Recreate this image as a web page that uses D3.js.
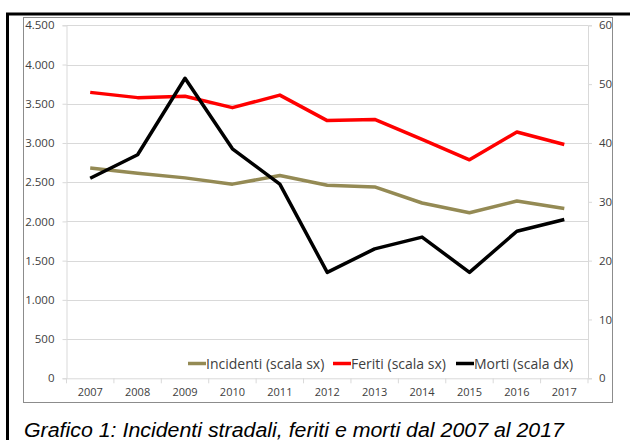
<!DOCTYPE html>
<html>
<head>
<meta charset="utf-8">
<script src="https://cdn.jsdelivr.net/npm/d3@7"></script>
<style>
  body { margin: 0; background: #fff; }
  svg { display: block; }
</style>
</head>
<body>
<svg id="chart" width="630" height="440"></svg>
<script>
// data
var anni = ['2007', '2008', '2009', '2010', '2011', '2012', '2013', '2014', '2015', '2016', '2017'];
var incidenti = [2680, 2615, 2555, 2475, 2585, 2460, 2440, 2235, 2110, 2260, 2165];
var feriti = [3645, 3578, 3595, 3450, 3610, 3285, 3300, 3045, 2785, 3140, 2980];
var morti = [34, 38, 51, 39, 33, 18, 22, 24, 18, 25, 27];
var ticksSx = [0, 500, 1000, 1500, 2000, 2500, 3000, 3500, 4000, 4500];
var ticksDx = [0, 10, 20, 30, 40, 50, 60];

var svg = d3.select('#chart');
var font = '"Open Sans", Lato, sans-serif';

// plot area (window.top is read only, so other names here)
var pL = 66.5, pR = 588, pT = 25.3, pB = 378.3;

var x = d3.scaleBand().domain(anni).range([pL, pR]);
var ySx = d3.scaleLinear().domain([0, 4500]).range([pB, pT]);
var yDx = d3.scaleLinear().domain([0, 60]).range([pB, pT]);

// outer black frame (right and bottom fall outside the picture)
svg.append('rect')
  .attr('x', 7.5).attr('y', 14).attr('width', 640).attr('height', 450)
  .attr('fill', 'none').attr('stroke', '#000').attr('stroke-width', 3);

// chart area box
svg.append('rect')
  .attr('x', 23.5).attr('y', 17.5).attr('width', 589).attr('height', 385)
  .attr('fill', '#fff').attr('stroke', '#8c8c8c').attr('stroke-width', 1);

// gridlines
svg.append('g').selectAll('line').data(ticksSx.slice(1)).enter().append('line')
  .attr('x1', pL).attr('x2', pR)
  .attr('y1', function(d) { return Math.round(ySx(d)) + 0.5; })
  .attr('y2', function(d) { return Math.round(ySx(d)) + 0.5; })
  .attr('stroke', '#d9d9d9').attr('stroke-width', 1);

// left axis
var axSx = d3.axisLeft(ySx).tickValues(ticksSx).tickSize(4).tickPadding(8)
  .tickFormat(function(d) { return d3.format(',')(d).replace(/,/g, '.'); });
var gSx = svg.append('g').attr('transform', 'translate(' + pL + ',0)').call(axSx);

// right axis
var axDx = d3.axisRight(yDx).tickValues(ticksDx).tickSize(4).tickPadding(7);
var gDx = svg.append('g').attr('transform', 'translate(' + pR + ',0)').call(axDx);

// x axis, ticks between categories
var axX = d3.axisBottom(x).tickSize(0).tickPadding(10);
var gX = svg.append('g').attr('transform', 'translate(0,' + pB + ')').call(axX);
gX.selectAll('.tickb').data(anni.concat(['end'])).enter().append('line')
  .attr('class', 'tickb')
  .attr('x1', function(d, i) { return pL + i * x.bandwidth(); })
  .attr('x2', function(d, i) { return pL + i * x.bandwidth(); })
  .attr('y1', 0).attr('y2', 5)
  .attr('stroke', '#d9d9d9');

[gSx, gDx, gX].forEach(function(g) {
  g.selectAll('.domain').attr('stroke', '#d9d9d9');
  g.selectAll('.tick line').attr('stroke', '#d9d9d9');
  g.selectAll('text').attr('fill', '#404040').style('font-family', font).style('font-size', '11.5px');
});
gX.selectAll('text').style('font-size', '11px');

var lineSx = d3.line()
  .x(function(d, i) { return x(anni[i]) + x.bandwidth() / 2; })
  .y(function(d) { return ySx(d); });
var lineDx = d3.line()
  .x(function(d, i) { return x(anni[i]) + x.bandwidth() / 2; })
  .y(function(d) { return yDx(d); });

svg.append('path').attr('d', lineSx(incidenti))
  .attr('fill', 'none').attr('stroke', '#948a54').attr('stroke-width', 3.5).attr('stroke-linejoin', 'round');
svg.append('path').attr('d', lineSx(feriti))
  .attr('fill', 'none').attr('stroke', '#ff0000').attr('stroke-width', 3.5).attr('stroke-linejoin', 'round');
svg.append('path').attr('d', lineDx(morti))
  .attr('fill', 'none').attr('stroke', '#000').attr('stroke-width', 3.5).attr('stroke-linejoin', 'round');

// legend
var legenda = [
  { nome: 'Incidenti (scala sx)', col: '#948a54', x: 188 },
  { nome: 'Feriti (scala sx)', col: '#ff0000', x: 333 },
  { nome: 'Morti (scala dx)', col: '#000', x: 456 }
];
var lg = svg.append('g').selectAll('g').data(legenda).enter().append('g')
  .attr('transform', function(d) { return 'translate(' + d.x + ',363.5)'; });
lg.append('line').attr('x1', 0).attr('x2', 18).attr('y1', 0).attr('y2', 0)
  .attr('stroke', function(d) { return d.col; }).attr('stroke-width', 3.5);
lg.append('text').attr('x', 18).attr('y', 5)
  .style('font-family', font).style('font-size', '14px').attr('fill', '#404040')
  .text(function(d) { return d.nome; });

// caption
svg.append('text').attr('x', 24).attr('y', 437)
  .style('font-family', '"Liberation Sans", Arial, sans-serif').style('font-size', '20px')
  .style('font-style', 'italic').attr('fill', '#000')
  .attr('textLength', 540).attr('lengthAdjust', 'spacingAndGlyphs')
  .text('Grafico 1: Incidenti stradali, feriti e morti dal 2007 al 2017');
</script>
</body>
</html>
